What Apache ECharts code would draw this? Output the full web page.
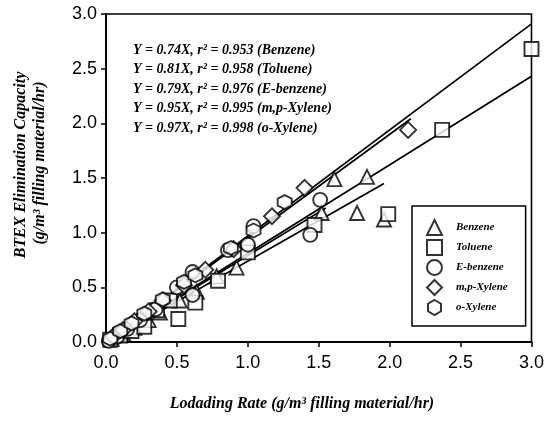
<!DOCTYPE html>
<html style="height: 100%">
<head>
<meta charset="utf-8">
<script src="https://cdn.jsdelivr.net/npm/echarts@6/dist/echarts.min.js"></script>
<style>
  html, body { margin: 0; height: 100%; background: #fff; }
  #container { width: 547px; height: 424px; }
</style>
</head>
<body>
<div id="container"></div>
<script>
// data: [loading rate, elimination capacity]
var benzene = [[0.04,0.03],[0.12,0.08],[0.2,0.13],[0.3,0.2],[0.38,0.27],[0.52,0.38],
  [0.64,0.46],[0.78,0.6],[0.92,0.68],[1.52,1.18],[1.61,1.49],[1.77,1.18],[1.84,1.51],[1.96,1.12]];
var toluene = [[0.03,0.02],[0.1,0.06],[0.18,0.1],[0.27,0.14],[0.36,0.29],[0.45,0.38],
  [0.51,0.21],[0.63,0.36],[0.79,0.56],[1.0,0.82],[1.47,1.07],[1.99,1.17],[2.37,1.94],[3.0,2.68]];
var ebenzene = [[0.02,0.01],[0.08,0.05],[0.15,0.12],[0.24,0.2],[0.35,0.3],[0.5,0.5],
  [0.61,0.43],[0.61,0.64],[0.86,0.84],[1.0,0.89],[1.04,1.06],[1.44,0.98],[1.51,1.3]];
var mpxylene = [[0.05,0.05],[0.12,0.11],[0.2,0.19],[0.3,0.28],[0.4,0.38],[0.55,0.52],
  [0.7,0.66],[0.9,0.85],[1.17,1.15],[1.4,1.41],[2.13,1.94]];
var oxylene = [[0.03,0.03],[0.1,0.1],[0.18,0.17],[0.27,0.26],[0.4,0.39],[0.55,0.55],
  [0.63,0.61],[0.88,0.86],[1.04,1.02],[1.26,1.28]];

var names = ['Benzene', 'Toluene', 'E-benzene', 'm,p-Xylene', 'o-Xylene'];
var slopes = [0.74, 0.81, 0.79, 0.95, 0.97];
var r2 = ['0.953', '0.958', '0.976', '0.995', '0.998'];
var fitEnd = [1.96, 3.0, 1.55, 2.15, 3.0];
var eqLabels = ['Benzene', 'Toluene', 'E-benzene', 'm,p-Xylene', 'o-Xylene'];

var hexagon = 'path://M0,-10 L8.66,-5 L8.66,5 L0,10 L-8.66,5 L-8.66,-5 Z';
var symbols = ['triangle', 'rect', 'circle', 'diamond', hexagon];
var sets = [benzene, toluene, ebenzene, mpxylene, oxylene];

var serif = '"Liberation Serif", "DejaVu Serif", serif';

var series = [];
// fitted lines
for (var i = 0; i < slopes.length; i++) {
  series.push({
    type: 'line',
    data: [[0, 0], [fitEnd[i], +(slopes[i] * fitEnd[i]).toFixed(3)]],
    showSymbol: false,
    symbol: 'none',
    lineStyle: { color: '#000', width: 1.7 },
    silent: true,
    z: 1
  });
}
// scatter points
for (var i = 0; i < sets.length; i++) {
  series.push({
    name: names[i],
    type: 'scatter',
    data: sets[i],
    symbol: symbols[i],
    symbolSize: i == 3 ? 16 : 14,
    itemStyle: { color: '#fff', borderColor: '#000', borderWidth: 1.9 },
    z: 3
  });
}

var graphics = [];
for (var i = 0; i < slopes.length; i++) {
  graphics.push({
    type: 'text',
    left: 133,
    top: 43 + i * 19.5,
    style: {
      text: 'Y = ' + slopes[i].toFixed(2) + 'X, r\u00b2 = ' + r2[i] + ' (' + eqLabels[i] + ')',
      font: 'italic bold 14px ' + serif,
      fill: '#000'
    }
  });
}
graphics.push({
  type: 'text',
  x: 302, y: 404,
  style: {
    text: 'Lodading Rate (g/m\u00b3 filling material/hr)',
    font: 'italic bold 16px ' + serif,
    fill: '#000', align: 'center', verticalAlign: 'middle'
  }
});
graphics.push({
  type: 'text',
  x: 21, y: 165, rotation: Math.PI / 2,
  style: {
    text: 'BTEX Elimination Capacity',
    font: 'italic bold 16px ' + serif,
    fill: '#000', align: 'center', verticalAlign: 'middle'
  }
});
graphics.push({
  type: 'text',
  x: 40, y: 163, rotation: Math.PI / 2,
  style: {
    text: '(g/m\u00b3 filling material/hr)',
    font: 'italic bold 16px ' + serif,
    fill: '#000', align: 'center', verticalAlign: 'middle'
  }
});

var axisCommon = {
  type: 'value',
  min: 0, max: 3, interval: 0.5,
  axisLine: { show: true, lineStyle: { color: '#000', width: 2 } },
  axisTick: { show: true, inside: false, length: 5, lineStyle: { color: '#000', width: 1.5 } },
  splitLine: { show: false },
  axisLabel: {
    color: '#000',
    fontFamily: '"Liberation Sans", Arial, sans-serif',
    fontSize: 18,
    formatter: function (v) { return v.toFixed(1); }
  }
};

var option = {
  animation: false,
  backgroundColor: '#fff',
  grid: {
    left: 106, right: 14, top: 14, bottom: 82,
    show: true, borderColor: '#000', borderWidth: 1.6, backgroundColor: 'transparent'
  },
  xAxis: echarts.util.merge({ axisLabel: { margin: 12 } }, axisCommon, true),
  yAxis: echarts.util.merge({ axisLabel: { margin: 9 } }, axisCommon, true),
  legend: {
    data: names,
    orient: 'vertical',
    left: 412, top: 206,
    padding: [13, 18, 10, 14],
    itemGap: 3,
    itemWidth: 15, itemHeight: 15,
    borderColor: '#000', borderWidth: 1.5,
    backgroundColor: '#fff',
    textStyle: {
      fontFamily: serif, fontStyle: 'italic', fontWeight: 'bold',
      fontSize: 11, color: '#000', padding: [0, 0, 0, 9]
    }
  },
  graphic: graphics,
  series: series
};

var chart = echarts.init(document.getElementById('container'));
chart.setOption(option);
</script>
</body>
</html>
